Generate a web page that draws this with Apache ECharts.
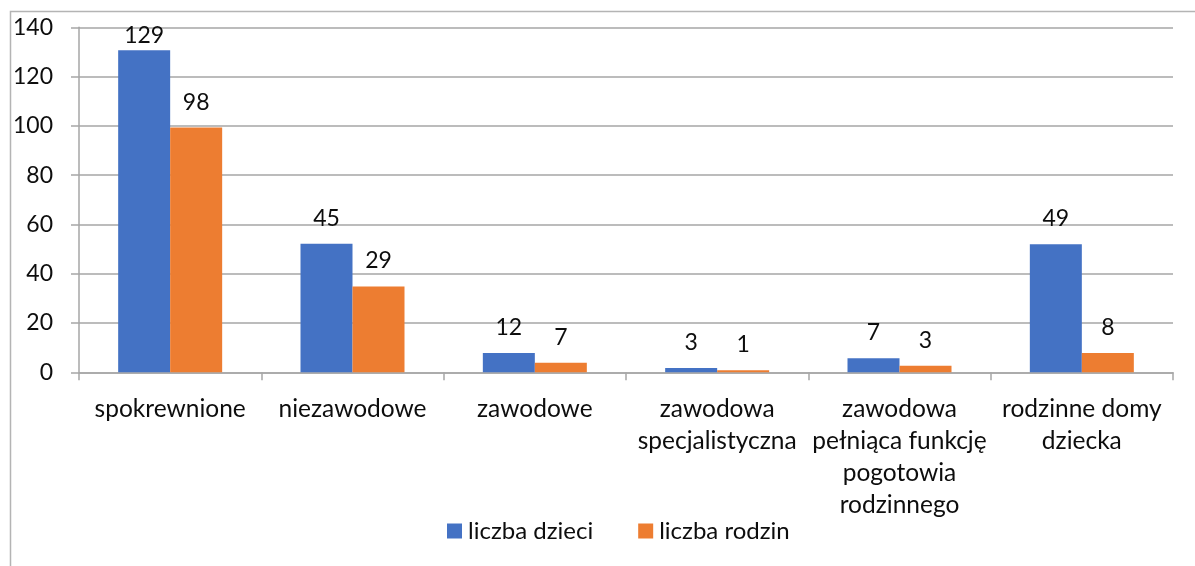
<!DOCTYPE html>
<html>
<head>
<meta charset="utf-8">
<script src="https://cdn.jsdelivr.net/npm/echarts@6/dist/echarts.min.js"></script>
<style>
html,body{margin:0;padding:0;background:#fff;}
#chart{width:1195px;height:566px;}
</style>
</head>
<body>
<div id="chart"></div>
<script>
// ---- data ----
var categories = ['spokrewnione', 'niezawodowe', 'zawodowe', 'zawodowa\nspecjalistyczna', 'zawodowa\npełniąca funkcję\npogotowia\nrodzinnego', 'rodzinne domy\ndziecka'];
var seriesNames = ['liczba dzieci', 'liczba rodzin'];
// bar heights as drawn in the picture
var dzieciValues = [130.7, 52.2, 7.8, 1.7, 5.7, 52.0];
var rodzinValues = [99.3, 34.8, 3.9, 0.8, 2.7, 7.8];
// label texts as printed in the picture
var dzieciLabels = ['129', '45', '12', '3', '7', '49'];
var rodzinLabels = ['98', '29', '7', '1', '3', '8'];
var yTicks = [0, 20, 40, 60, 80, 100, 120, 140];

var FONT = 'Lato';
var TXT = '#0d0d0d';
var GRID = '#a6a6a6';

function buildData(values, labels) {
  return values.map(function (v, i) {
    var item = { value: v, labelText: labels[i] };
    if (v > 125) { item.label = { distance: 3 }; }
    return item;
  });
}

function makeSeries(name, values, labels, color) {
  return {
    name: name,
    type: 'bar',
    barWidth: 52,
    barGap: '0%',
    itemStyle: { color: color },
    label: {
      show: true,
      position: 'top',
      distance: 14,
      fontFamily: FONT,
      fontSize: 23,
      color: TXT,
      formatter: function (p) { return p.data.labelText; }
    },
    data: buildData(values, labels)
  };
}

var chart = echarts.init(document.getElementById('chart'), null, { renderer: 'canvas' });
chart.setOption({
  animation: false,
  backgroundColor: '#ffffff',
  textStyle: { fontFamily: FONT },
  grid: { left: 79, right: 22, top: 27.3, bottom: 193.7, containLabel: false },
  legend: {
    data: seriesNames,
    left: 442,
    top: 514,
    icon: 'rect',
    itemWidth: 15,
    itemHeight: 15,
    itemGap: 45,
    textStyle: { fontFamily: FONT, fontSize: 24, color: TXT, padding: [0, 0, 0, 1] }
  },
  xAxis: {
    type: 'category',
    data: categories,
    boundaryGap: true,
    axisLine: { show: true, lineStyle: { color: GRID, width: 1.5 } },
    axisTick: { show: true, length: 8, lineStyle: { color: GRID, width: 1.5 } },
    axisLabel: {
      interval: 0,
      margin: 21,
      fontFamily: FONT,
      fontSize: 24.5,
      lineHeight: 32,
      color: TXT,
      align: 'center'
    }
  },
  yAxis: {
    type: 'value',
    min: yTicks[0],
    max: yTicks[yTicks.length - 1],
    interval: yTicks[1] - yTicks[0],
    axisLine: { show: true, lineStyle: { color: GRID, width: 1.5 } },
    axisTick: { show: true, length: 8, lineStyle: { color: GRID, width: 1.5 } },
    splitLine: { show: true, lineStyle: { color: GRID, width: 1.5 } },
    axisLabel: { margin: 26, fontFamily: FONT, fontSize: 23, color: TXT }
  },
  graphic: [{
    type: 'polyline',
    shape: { points: [[10.5, 566], [10.5, 11.5], [1195, 11.5]] },
    style: { stroke: '#b4b4b4', lineWidth: 1.5, fill: null },
    silent: true
  }],
  series: [
    makeSeries(seriesNames[0], dzieciValues, dzieciLabels, '#4472C4'),
    makeSeries(seriesNames[1], rodzinValues, rodzinLabels, '#ED7D31')
  ]
});
</script>
</body>
</html>
